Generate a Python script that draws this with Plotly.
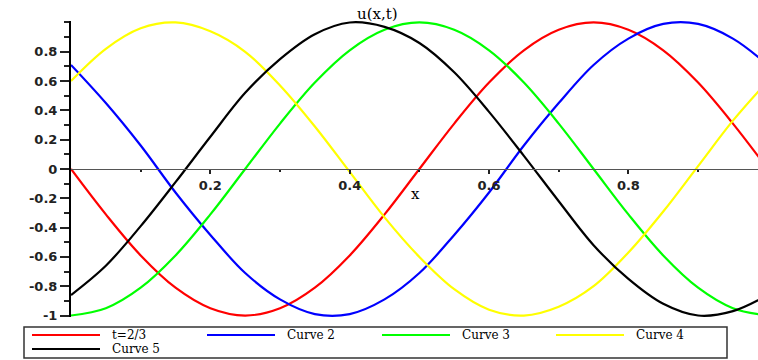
import plotly.graph_objects as go

# Sample positions along x
x_vals = [0.00, 0.05, 0.10, 0.15, 0.20, 0.25, 0.30, 0.35, 0.40, 0.45, 0.50,
          0.55, 0.60, 0.65, 0.70, 0.75, 0.80, 0.85, 0.90, 0.95, 1.00]

# u(x,t) for each curve
u_red = [0.00, -0.31, -0.59, -0.81, -0.95, -1.00, -0.95, -0.81, -0.59, -0.31, 0.00,
         0.31, 0.59, 0.81, 0.95, 1.00, 0.95, 0.81, 0.59, 0.31, 0.00]
u_blue = [0.71, 0.45, 0.16, -0.16, -0.45, -0.71, -0.89, -0.99, -0.99, -0.89, -0.71,
          -0.45, -0.16, 0.16, 0.45, 0.71, 0.89, 0.99, 0.99, 0.89, 0.71]
u_green = [-1.00, -0.95, -0.81, -0.59, -0.31, 0.00, 0.31, 0.59, 0.81, 0.95, 1.00,
           0.95, 0.81, 0.59, 0.31, 0.00, -0.31, -0.59, -0.81, -0.95, -1.00]
u_yellow = [0.60, 0.82, 0.96, 1.00, 0.94, 0.80, 0.57, 0.29, -0.02, -0.33, -0.60,
            -0.82, -0.96, -1.00, -0.94, -0.80, -0.57, -0.29, 0.02, 0.33, 0.60]
u_black = [-0.86, -0.66, -0.39, -0.09, 0.22, 0.52, 0.75, 0.92, 1.00, 0.97, 0.86,
           0.66, 0.39, 0.09, -0.22, -0.52, -0.75, -0.92, -1.00, -0.97, -0.86]

series_names = ["t=2/3", "Curve 2", "Curve 3", "Curve 4", "Curve 5"]
series_values = [u_red, u_blue, u_green, u_yellow, u_black]
series_colors = ["#ff0000", "#0000ff", "#00ff00", "#ffff00", "#000000"]

x_ticks = [0.2, 0.4, 0.6, 0.8]
y_ticks = [-1.0, -0.8, -0.6, -0.4, -0.2, 0.0, 0.2, 0.4, 0.6, 0.8]
y_tick_text = ["-1", "-0.8", "-0.6", "-0.4", "-0.2", "0", "0.2", "0.4", "0.6", "0.8"]

W, H = 758, 360
ML, MR, MT, MB = 71, 0, 21, 43
PW, PH = W - ML - MR, H - MT - MB


def px(xp):
    return (xp - ML) / PW


def py(yp):
    return (H - MB - yp) / PH


fig = go.Figure()
for name, vals, col in zip(series_names, series_values, series_colors):
    fig.add_trace(go.Scatter(x=x_vals, y=vals, name=name, mode="lines",
                             line=dict(color=col, width=2.2, shape="spline"),
                             showlegend=False))

serif = "DejaVu Serif"
tick_font = dict(family="DejaVu Sans", size=13, color="#222", weight="bold")

fig.update_layout(
    width=W, height=H,
    margin=dict(l=ML, r=MR, t=MT, b=MB, pad=0),
    paper_bgcolor="white", plot_bgcolor="white",
    xaxis=dict(range=[0, 0.986], anchor="free", position=0.5,
               showgrid=False, zeroline=False,
               showline=True, linecolor="#555", linewidth=1,
               tickvals=x_ticks, ticktext=[str(v) for v in x_ticks],
               ticks="outside", ticklen=4, tickwidth=1.5, tickcolor="#222",
               minor=dict(tickvals=[0.1, 0.3, 0.5, 0.7, 0.9], ticks="outside",
                          ticklen=2, tickcolor="#222"),
               tickfont=tick_font),
    yaxis=dict(range=[-1.01, 1.01], showgrid=False, zeroline=False,
               showline=True, linecolor="#000", linewidth=2,
               tickvals=y_ticks, ticktext=y_tick_text,
               ticks="outside", ticklen=9, tickwidth=1.5, tickcolor="#222",
               minor=dict(dtick=0.1, tick0=0, ticks="outside", ticklen=5,
                          tickcolor="#222"),
               tickfont=tick_font),
    showlegend=False,
)

annotations = [
    dict(text="u(x,t)", x=px(377), y=py(14), xref="paper", yref="paper",
         showarrow=False, font=dict(family=serif, size=15, color="#000"),
         xanchor="center", yanchor="middle"),
    dict(text="x", x=px(415), y=py(194), xref="paper", yref="paper",
         showarrow=False, font=dict(family=serif, size=15, color="#000"),
         xanchor="center", yanchor="middle"),
]

# Legend box drawn beneath the plot
shapes = [dict(type="rect", xref="paper", yref="paper",
               x0=px(24), x1=px(727), y0=py(358), y1=py(327),
               line=dict(color="#333", width=1.5), fillcolor="white")]

line_starts = [32, 207, 382, 556]
for i, (name, col) in enumerate(zip(series_names, series_colors)):
    row, colidx = divmod(i, 4)
    yrow = 335 + row * 14
    x0 = line_starts[colidx]
    shapes.append(dict(type="line", xref="paper", yref="paper",
                       x0=px(x0), x1=px(x0 + 68), y0=py(yrow), y1=py(yrow),
                       line=dict(color=col, width=2.2)))
    annotations.append(dict(text=name, x=px(x0 + 78), y=py(yrow), xref="paper",
                            yref="paper", showarrow=False, xanchor="left",
                            yanchor="middle",
                            font=dict(family=serif, size=12, color="#000")))

fig.update_layout(shapes=shapes, annotations=annotations)
fig.write_html("out.html")
